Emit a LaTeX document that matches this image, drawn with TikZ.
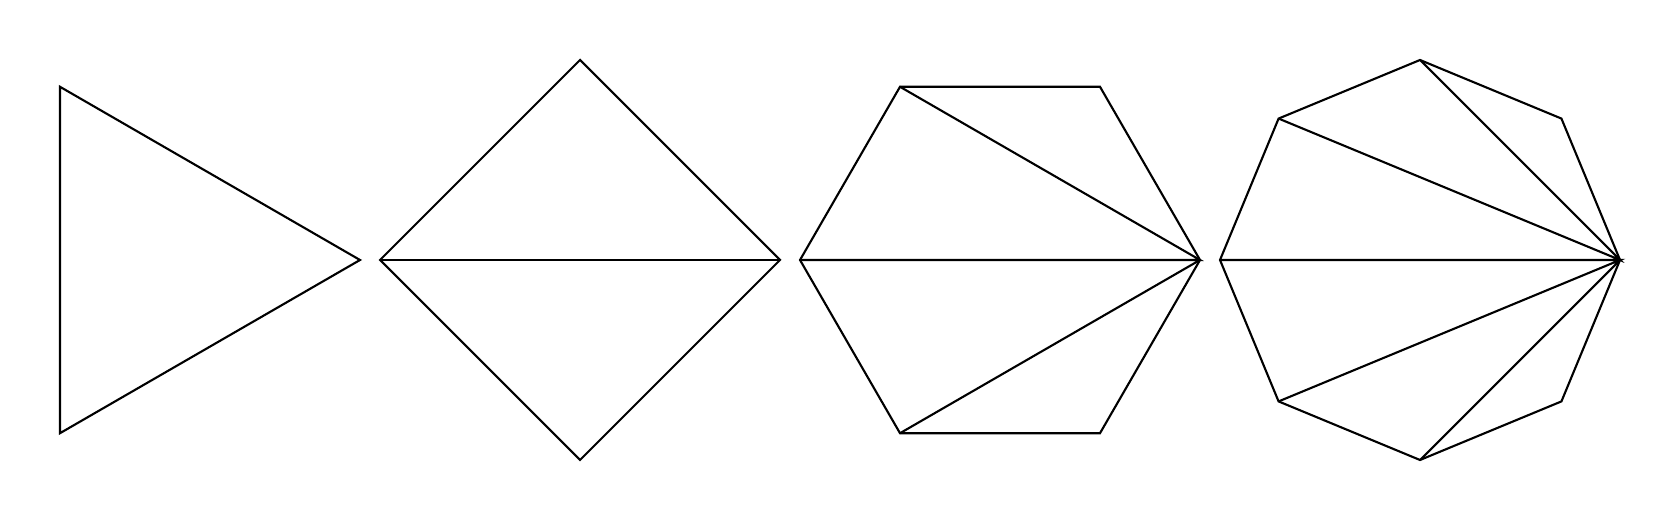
\documentclass[tikz,border=0pt]{standalone}
\usepackage{tikz}
\begin{document}
\begin{tikzpicture}[x=1cm,y=1cm]
		\useasboundingbox (0,0) rectangle (16.8,5.2);
		% triangle
		\draw[black, semithick, shift={(1.6,2.6)}] (0:2)--(120:2)--(240:2)--cycle;
		
		% square
		\draw[black, semithick, shift={(5.8,2.6)}] (0:2)--(90:2)--(180:2)--(270:2)--cycle;
		\draw[black, semithick, shift={(5.8,2.6)}] (0:2)--(180:2);
		
		% hexagon
		\draw[black, semithick, shift={(10.0,2.6)}] (0:2)--(60:2)--(120:2)--(180:2)--(240:2)--(300:2)--cycle;
		\draw[black, semithick, shift={(10.0,2.6)}] (120:2)--(0:2)--(180:2) (0:2)--(240:2);
		
		% octagon
		\draw[black, semithick, shift={(14.2,2.6)}] (0:2)--(45:2)--(90:2)--(135:2)--(180:2)--(225:2)--(270:2)--(315:2)--cycle;
		\draw[black, semithick, shift={(14.2,2.6)}] (90:2)--(0:2)--(135:2) (180:2)--(0:2)--(225:2) (0:2)--(270:2);
		%\draw[black, shift={(14.2,2.6)}] (0,0) circle (2);
	\end{tikzpicture}
\end{document}
